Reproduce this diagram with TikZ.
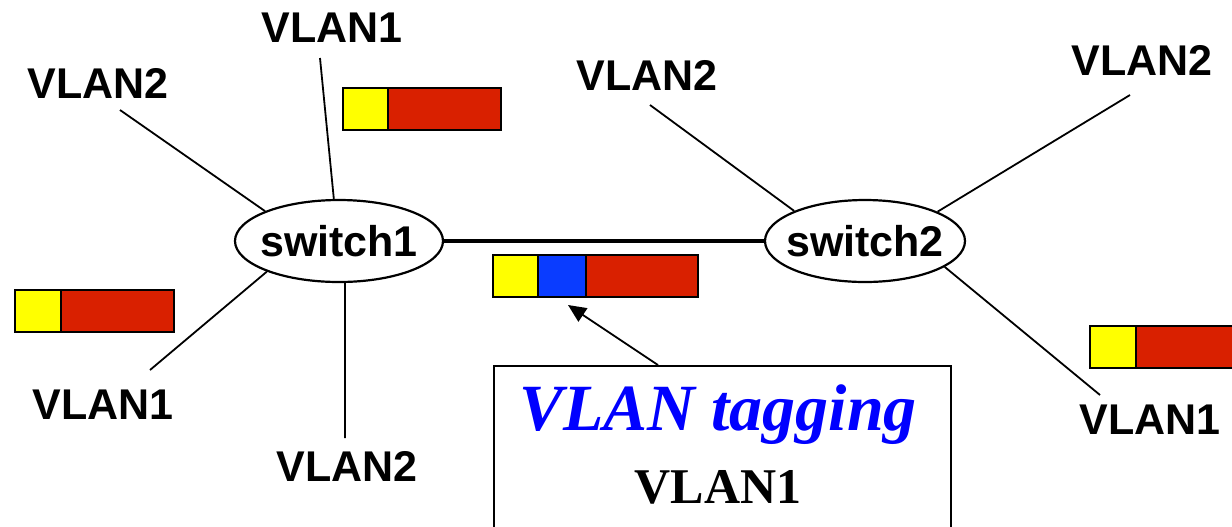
\documentclass[tikz,border=0pt]{standalone}
\usepackage{fontspec}
\setmainfont{Liberation Sans}
\newfontfamily\timesfont{Liberation Serif}
\usetikzlibrary{shapes.geometric,arrows.meta}
\definecolor{tagyellow}{HTML}{FFFF00}
\definecolor{tagblue}{HTML}{0A3CFF}
\definecolor{tagred}{HTML}{D92000}
\tikzset{
  switchnode/.style={draw, ellipse, line width=1.1pt, minimum width=104pt, minimum height=41pt, inner xsep=-6pt, inner ysep=0pt, font=\fontsize{21.5}{24}\selectfont\bfseries},
  vlanlabel/.style={font=\fontsize{21.5}{24}\selectfont\bfseries, inner sep=0pt},
  wire/.style={line width=0.9pt},
  field/.style={draw, line width=1pt, inner sep=0pt, outer sep=0pt, minimum height=21pt},
}
\begin{document}
\begin{tikzpicture}[x=0.5pt, y=-0.5pt]
    \useasboundingbox (0,0) rectangle (1232,526);
    \clip (0,0) rectangle (1232,526);
    % switches
    \node [switchnode] (S1) at (339,241) {switch1};
    \node [switchnode, minimum width=100pt] (S2) at (865,241) {switch2};
    \path [line width=2.4pt] (S1) edge (S2);
    % labels around switch1
    \node [vlanlabel] (L1a) at (98,83) {VLAN2};
    \node [vlanlabel] (L1b) at (332,28) {VLAN1};
    \node [vlanlabel] (L1c) at (103,405) {VLAN1};
    \node [vlanlabel] (L1d) at (347,466) {VLAN2};
    \coordinate (e1a) at (120,110);
    \coordinate (e1b) at (320,58);
    \coordinate (e1c) at (150,370);
    \coordinate (e1d) at (345,438);
    \path [wire] (S1.158) edge (e1a);
    \path [wire] (S1.97) edge (e1b);
    \path [wire] (S1.203) edge (e1c);
    \path [wire] (S1.278) edge (e1d);
    % labels around switch2
    \node [vlanlabel] (L2a) at (647,75) {VLAN2};
    \node [vlanlabel] (L2b) at (1142,60) {VLAN2};
    \node [vlanlabel] (L2c) at (1150,420) {VLAN1};
    \coordinate (e2a) at (650,105);
    \coordinate (e2b) at (1130,95);
    \coordinate (e2c) at (1100,395);
    \path [wire] (S2.157) edge (e2a);
    \path [wire] (S2.22) edge (e2b);
    \path [wire] (S2.-18) edge (e2c);
    % frames
    \node [field, fill=tagyellow, minimum width=22.5pt, anchor=west] (F1y) at (343,109) {};
    \node [field, fill=tagred, minimum width=56.5pt, anchor=west] (F1r) at (F1y.east) {};
    \node [field, fill=tagyellow, minimum width=23pt, anchor=west] (F2y) at (15,311) {};
    \node [field, fill=tagred, minimum width=56.5pt, anchor=west] (F2r) at (F2y.east) {};
    \node [field, fill=tagyellow, minimum width=22.5pt, anchor=west] (F3y) at (493,276) {};
    \node [field, fill=tagblue, minimum width=24pt, anchor=west] (F3b) at (F3y.east) {};
    \node [field, fill=tagred, minimum width=56pt, anchor=west] (F3r) at (F3b.east) {};
    \node [field, fill=tagyellow, minimum width=23pt, anchor=west] (F4y) at (1090,347) {};
    \node [field, fill=tagred, minimum width=60pt, anchor=west] (F4r) at (F4y.east) {};
    % tagging box
    \node [draw, line width=1pt, anchor=north west, minimum width=228.5pt, minimum height=110pt, inner sep=0pt] (box) at (493,365) {};
    \node [font=\timesfont\fontsize{33}{36}\selectfont\bfseries\itshape, text=blue, inner sep=0pt] (tagtxt) at (718,415) {VLAN tagging};
    \node [font=\timesfont\fontsize{25}{28}\selectfont\bfseries, inner sep=0pt] (vlantxt) at (718,487) {VLAN1};
    \coordinate (arrstart) at (658,365);
    \coordinate (arrend) at (568,305);
    \draw [wire, -{Triangle[length=9pt,width=8pt]}] (arrstart) -- (arrend);
\end{tikzpicture}
\end{document}
